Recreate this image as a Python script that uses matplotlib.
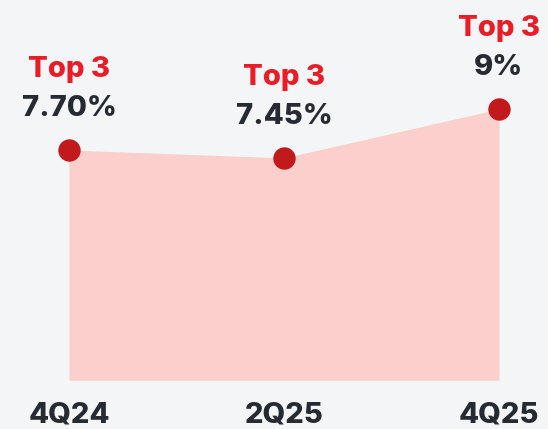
import numpy as np
import matplotlib
matplotlib.use("Agg")
import matplotlib.pyplot as plt

# data
quarters = ["4Q24", "2Q25", "4Q25"]
rates    = [7.70, 7.45, 9.0]
rate_lbl = ["7.70%", "7.45%", "9%"]
rank_lbl = ["Top 3", "Top 3", "Top 3"]

BG    = "#F3F5F7"
FILL  = "#FBCFCC"
DOT   = "#C21A1C"
RED   = "#EA1D26"
DARK  = "#262A33"

plt.rcParams['font.family'] = ['Inter', 'DejaVu Sans']

fig = plt.figure(figsize=(5.48, 4.29), dpi=100)
fig.patch.set_facecolor(BG)
ax = fig.add_axes([0, 0, 1, 1])
ax.set_facecolor(BG)

x = np.arange(len(quarters))
base = 0.4
ax.fill_between(x, rates, base, color=FILL, lw=0, zorder=1)
ax.scatter(x, rates, s=260, color=DOT, zorder=3, lw=0)

for xi, v, r, t in zip(x, rates, rank_lbl, rate_lbl):
    ax.annotate(t, (xi, v), xytext=(0, 30), textcoords="offset points",
                ha="center", va="center", fontsize=21, fontweight="heavy",
                color=DARK)
    ax.annotate(r, (xi, v), xytext=(0, 58), textcoords="offset points",
                ha="center", va="center", fontsize=21, fontweight="heavy",
                color=RED)
    ax.annotate(quarters[xi], (xi, base), xytext=(0, -25), textcoords="offset points",
                ha="center", va="center", fontsize=21, fontweight="heavy",
                color=DARK)

ax.set_xlim(-0.321, 2.228)
ax.set_ylim(-1.146, 12.456)
ax.axis("off")

fig.savefig("out.png", dpi=100, facecolor=BG)
